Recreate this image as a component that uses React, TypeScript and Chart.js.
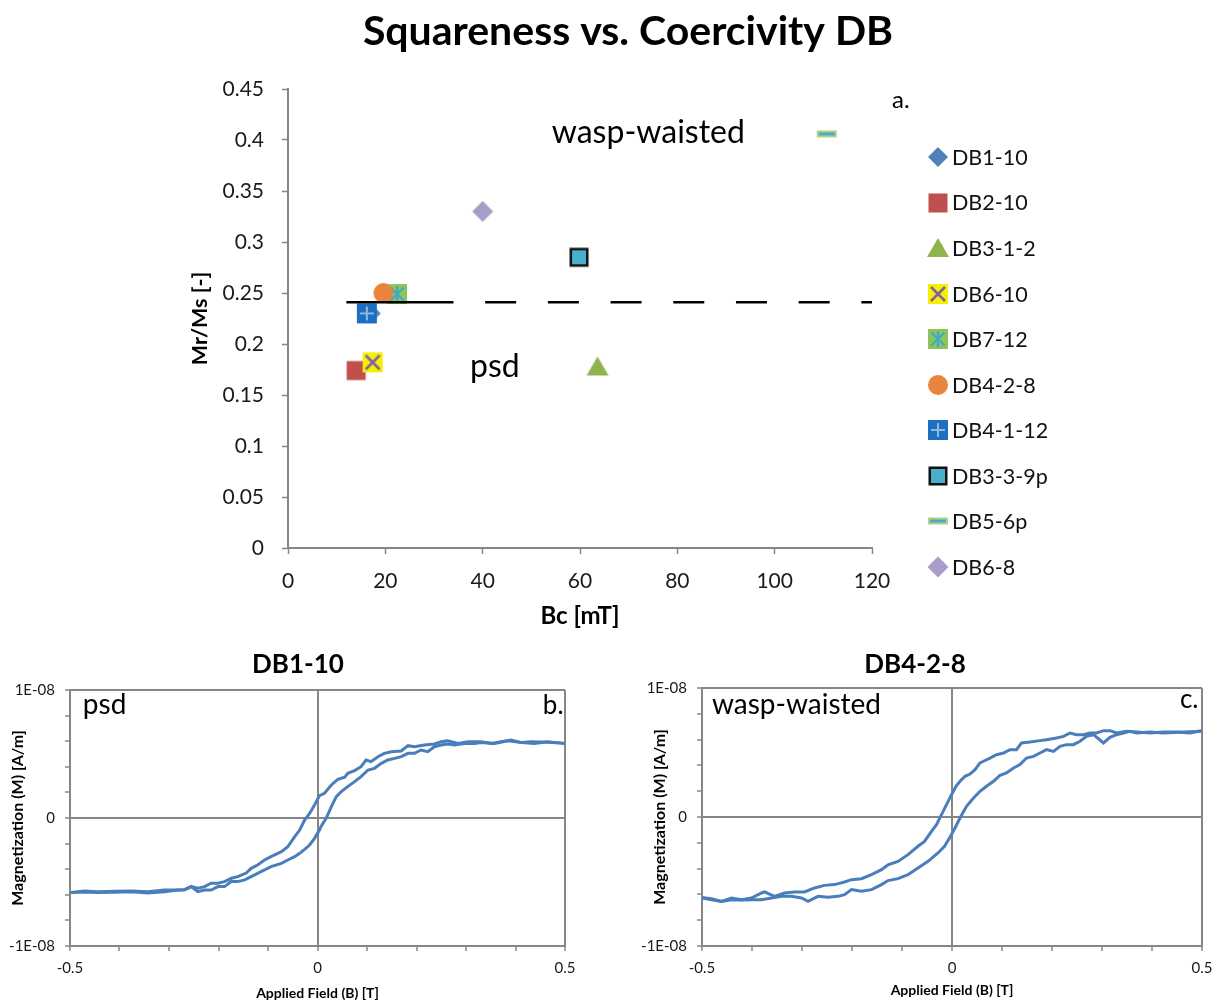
import React, { useEffect, useRef } from "react";
import { Chart, registerables } from "chart.js";

Chart.register(...registerables);

const FONT = 'Lato, "Open Sans", "DejaVu Sans", sans-serif';
Chart.defaults.font.family = FONT;
Chart.defaults.color = "#000";

/* ---------------- Panel a: squareness vs. coercivity ---------------- */
const sampleNames = ["DB1-10", "DB2-10", "DB3-1-2", "DB6-10", "DB7-12", "DB4-2-8", "DB4-1-12", "DB3-3-9p", "DB5-6p", "DB6-8"];
const coercivityBc = [17.0, 14.0, 63.6, 17.4, 22.4, 19.6, 16.2, 59.8, 110.7, 40.0];
const squarenessMrMs = [0.23, 0.174, 0.178, 0.182, 0.249, 0.25, 0.23, 0.285, 0.406, 0.33];
const markerKinds = ["diamondBlue", "squareRed", "triangleGreen", "squareYellowX", "squareGreenStar", "circleOrange", "squareBluePlus", "squareTealBorder", "dashTeal", "diamondLavender"];
const psdThresholdMrMs = 0.241;
const thresholdSolidBc = [12, 34];
const thresholdDashedBc = [34, 120];
const bcAxis = { min: 0, max: 120, step: 20 };
const mrmsAxis = { min: 0, max: 0.45, step: 0.05 };

/* ---------------- Panels b/c: hysteresis loops ----------------
   [applied field B (T), magnetization M (units of 1E-09 A/m)] */
const db1UpperBranch = [
  [-0.498, -5.81], [-0.471, -5.7], [-0.444, -5.76], [-0.41, -5.72], [-0.376, -5.7], [-0.343, -5.76], [-0.309, -5.63],
  [-0.282, -5.63], [-0.269, -5.6], [-0.255, -5.36], [-0.242, -5.49], [-0.228, -5.36], [-0.215, -5.1], [-0.201, -5.1],
  [-0.188, -4.97], [-0.174, -4.71], [-0.161, -4.58], [-0.144, -4.3], [-0.134, -3.93], [-0.121, -3.67], [-0.107, -3.28],
  [-0.094, -3.02], [-0.073, -2.63], [-0.06, -2.24], [-0.046, -1.46], [-0.036, -0.94], [-0.026, -0.16], [-0.016, 0.36],
  [-0.006, 1.02], [0.004, 1.75], [0.014, 1.93], [0.028, 2.58], [0.041, 3.02], [0.055, 3.18], [0.061, 3.49], [0.075, 3.7],
  [0.088, 4.01], [0.098, 4.53], [0.108, 4.4], [0.122, 4.79], [0.135, 5.05], [0.149, 5.18], [0.169, 5.23], [0.183, 5.65],
  [0.196, 5.57], [0.216, 5.7], [0.236, 5.78], [0.25, 5.96], [0.263, 6.04], [0.284, 5.83], [0.304, 5.96], [0.331, 5.96],
  [0.351, 5.83], [0.371, 5.96], [0.391, 6.09], [0.412, 5.89], [0.432, 5.96], [0.465, 5.91], [0.499, 5.83],
];
const db1LowerBranch = [
  [-0.498, -5.83], [-0.471, -5.78], [-0.444, -5.83], [-0.41, -5.8], [-0.376, -5.76], [-0.343, -5.85], [-0.309, -5.76],
  [-0.282, -5.63], [-0.269, -5.61], [-0.255, -5.36], [-0.242, -5.76], [-0.228, -5.63], [-0.215, -5.63], [-0.201, -5.36],
  [-0.188, -5.36], [-0.174, -4.97], [-0.161, -4.97], [-0.147, -4.84], [-0.134, -4.58], [-0.121, -4.32], [-0.107, -4.06],
  [-0.094, -3.8], [-0.073, -3.54], [-0.06, -3.28], [-0.046, -3.02], [-0.036, -2.76], [-0.026, -2.45], [-0.016, -2.11],
  [-0.006, -1.59], [0.004, -0.94], [0.007, -0.68], [0.018, 0.02], [0.028, 0.89], [0.038, 1.67], [0.048, 2.06],
  [0.061, 2.45], [0.075, 2.84], [0.088, 3.23], [0.102, 3.75], [0.115, 3.88], [0.129, 4.27], [0.142, 4.53], [0.156, 4.66],
  [0.169, 4.79], [0.183, 5.05], [0.196, 5.05], [0.209, 5.31], [0.223, 5.18], [0.236, 5.57], [0.25, 5.7], [0.263, 5.78],
  [0.277, 5.7], [0.29, 5.78], [0.304, 5.83], [0.317, 5.83], [0.331, 5.89], [0.358, 5.83], [0.384, 6.04], [0.412, 5.89],
  [0.438, 5.83], [0.465, 5.96], [0.499, 5.83],
];
const db4UpperBranch = [
  [-0.501, -6.28], [-0.481, -6.41], [-0.461, -6.54], [-0.441, -6.28], [-0.421, -6.41], [-0.401, -6.28], [-0.381, -5.89],
  [-0.375, -5.81], [-0.355, -6.15], [-0.335, -5.89], [-0.315, -5.81], [-0.295, -5.81], [-0.275, -5.5], [-0.255, -5.3],
  [-0.235, -5.24], [-0.215, -5.04], [-0.201, -4.86], [-0.181, -4.78], [-0.161, -4.47], [-0.141, -4.08], [-0.128, -3.7],
  [-0.108, -3.44], [-0.088, -2.92], [-0.068, -2.27], [-0.055, -1.89], [-0.041, -1.11], [-0.031, -0.59], [-0.021, 0.18],
  [-0.011, 0.96], [-0.001, 1.73], [0.008, 2.38], [0.016, 2.77], [0.026, 3.15], [0.036, 3.33], [0.046, 3.67], [0.056, 4.19],
  [0.063, 4.32], [0.076, 4.57], [0.089, 4.83], [0.103, 4.96], [0.116, 5.22], [0.129, 5.22], [0.139, 5.74], [0.156, 5.81],
  [0.176, 5.92], [0.189, 5.99], [0.209, 6.12], [0.223, 6.25], [0.236, 6.51], [0.249, 6.38], [0.263, 6.38], [0.276, 6.51],
  [0.289, 6.51], [0.303, 6.69], [0.316, 6.69], [0.329, 6.51], [0.349, 6.64], [0.369, 6.59], [0.396, 6.51], [0.423, 6.59],
  [0.449, 6.59], [0.476, 6.51], [0.499, 6.69],
];
const db4LowerBranch = [
  [-0.501, -6.23], [-0.481, -6.33], [-0.461, -6.54], [-0.441, -6.41], [-0.421, -6.44], [-0.401, -6.41], [-0.381, -6.41],
  [-0.361, -6.28], [-0.341, -6.15], [-0.321, -6.15], [-0.301, -6.28], [-0.288, -6.54], [-0.268, -6.15], [-0.248, -6.23],
  [-0.228, -6.15], [-0.215, -6.02], [-0.201, -5.63], [-0.181, -5.76], [-0.161, -5.63], [-0.141, -5.24], [-0.128, -4.93],
  [-0.108, -4.78], [-0.088, -4.47], [-0.068, -3.95], [-0.048, -3.44], [-0.028, -2.79], [-0.015, -2.27], [-0.005, -1.63],
  [0.006, -0.85], [0.016, -0.08], [0.029, 0.83], [0.043, 1.47], [0.056, 1.99], [0.069, 2.38], [0.083, 2.77], [0.096, 3.23],
  [0.109, 3.41], [0.123, 3.8], [0.136, 4.06], [0.149, 4.57], [0.163, 4.7], [0.176, 4.96], [0.189, 5.22], [0.203, 5.09],
  [0.216, 5.48], [0.229, 5.61], [0.243, 5.61], [0.256, 5.87], [0.269, 6.25], [0.283, 6.38], [0.303, 5.74], [0.316, 6.17],
  [0.329, 6.38], [0.343, 6.51], [0.356, 6.64], [0.369, 6.51], [0.396, 6.59], [0.423, 6.51], [0.463, 6.59], [0.499, 6.64],
];
const fieldAxis = { min: -0.5, max: 0.5, step: 0.1 };
const fieldLabelled = [-0.5, 0, 0.5];
const magAxis = { min: -10, max: 10, step: 2 };
const magLabelled = [-10, 0, 10];

/* ---------------- styling ---------------- */
const GRAY = "#868686";
const LOOP_BLUE = "#4A7EBB";

function makeMarker(kind: string): HTMLCanvasElement {
  const c = document.createElement("canvas");
  const S = 26;
  c.width = S;
  c.height = S;
  const g = c.getContext("2d") as CanvasRenderingContext2D;
  const m = S / 2;
  const square = (fill: string, half: number) => {
    g.fillStyle = fill;
    g.fillRect(m - half, m - half, half * 2, half * 2);
  };
  const diamond = (fill: string, h: number) => {
    g.fillStyle = fill;
    g.beginPath();
    g.moveTo(m, m - h);
    g.lineTo(m + h, m);
    g.lineTo(m, m + h);
    g.lineTo(m - h, m);
    g.closePath();
    g.fill();
  };
  const seg = (x1: number, y1: number, x2: number, y2: number, col: string, lw: number) => {
    g.strokeStyle = col;
    g.lineWidth = lw;
    g.lineCap = "butt";
    g.beginPath();
    g.moveTo(m + x1, m + y1);
    g.lineTo(m + x2, m + y2);
    g.stroke();
  };
  switch (kind) {
    case "diamondBlue":
      diamond("#4F81BD", 10);
      break;
    case "squareRed":
      square("#C0504D", 9.5);
      break;
    case "triangleGreen":
      g.fillStyle = "#8FB34F";
      g.beginPath();
      g.moveTo(m, m - 10);
      g.lineTo(m + 11, m + 9);
      g.lineTo(m - 11, m + 9);
      g.closePath();
      g.fill();
      break;
    case "squareYellowX":
      square("#F4F000", 10);
      seg(-7, -7, 7, 7, "#7F60A8", 2.5);
      seg(-7, 7, 7, -7, "#7F60A8", 2.5);
      break;
    case "squareGreenStar":
      square("#8FC45A", 10);
      seg(-6.5, -6.5, 6.5, 6.5, "#3FA9C9", 2.2);
      seg(-6.5, 6.5, 6.5, -6.5, "#3FA9C9", 2.2);
      seg(0, -8, 0, 8, "#3FA9C9", 2.2);
      break;
    case "circleOrange":
      g.fillStyle = "#E9843C";
      g.beginPath();
      g.arc(m, m, 10, 0, Math.PI * 2);
      g.fill();
      break;
    case "squareBluePlus":
      square("#1E6FC0", 10);
      seg(-7, 0, 7, 0, "#8EB7E3", 2);
      seg(0, -7, 0, 7, "#8EB7E3", 2);
      break;
    case "squareTealBorder":
      square("#111", 9.5);
      square("#47AECB", 7);
      break;
    case "dashTeal":
      g.fillStyle = "#B5CF8B";
      g.fillRect(m - 10, m - 3.5, 20, 7);
      g.fillStyle = "#4BACC6";
      g.fillRect(m - 8, m - 1.5, 16, 3);
      break;
    case "diamondLavender":
      diamond("#A89DC8", 10.5);
      break;
  }
  return c;
}

function notesPlugin(items: any[]) {
  return {
    id: "notes",
    afterDatasetsDraw(chart: any) {
      const { ctx, scales } = chart;
      ctx.save();
      for (const n of items) {
        ctx.font = `${n.size}px ${FONT}`;
        ctx.fillStyle = "#000";
        ctx.textAlign = n.align;
        ctx.textBaseline = "middle";
        ctx.fillText(n.text, scales.x.getPixelForValue(n.x), scales.y.getPixelForValue(n.y));
      }
      ctx.restore();
    },
  };
}

function sideLegendPlugin(cfg: { offsetX: number; top: number; spacing: number; gap: number; size: number }) {
  return {
    id: "sideLegend",
    afterDraw(chart: any) {
      const { ctx, chartArea } = chart;
      ctx.save();
      ctx.font = `${cfg.size}px ${FONT}`;
      ctx.fillStyle = "#111";
      ctx.textAlign = "left";
      ctx.textBaseline = "middle";
      let row = 0;
      chart.data.datasets.forEach((ds: any) => {
        if (!ds.inLegend) return;
        const x = chartArea.right + cfg.offsetX;
        const y = chartArea.top + cfg.top + row * cfg.spacing;
        const img = ds.pointStyle as HTMLCanvasElement;
        ctx.drawImage(img, Math.round(x - img.width / 2), Math.round(y - img.height / 2));
        ctx.fillText(ds.label, x + cfg.gap, y + 1);
        row++;
      });
      ctx.restore();
    },
  };
}

const topNotes = [
  { text: "wasp-waisted", x: 54.2, y: 0.407, size: 32, align: "left" },
  { text: "psd", x: 37.4, y: 0.178, size: 32, align: "left" },
  { text: "a.", x: 124.1, y: 0.439, size: 24, align: "left" },
];

function ScatterPanel() {
  const ref = useRef<HTMLCanvasElement>(null);
  useEffect(() => {
    const markers = markerKinds.map(makeMarker);
    const datasets: any[] = sampleNames.map((name, i) => ({
      label: name,
      data: [{ x: coercivityBc[i], y: squarenessMrMs[i] }],
      pointStyle: markers[i],
      pointRadius: 10,
      pointHoverRadius: 10,
      showLine: false,
      order: sampleNames.length - i,
      inLegend: true,
    }));
    datasets.push({
      label: "psd limit",
      data: thresholdSolidBc.map((x) => ({ x, y: psdThresholdMrMs })),
      showLine: true,
      borderColor: "#000",
      borderWidth: 2.5,
      pointRadius: 0,
      order: 0,
      inLegend: false,
    });
    datasets.push({
      label: "psd limit dashed",
      data: thresholdDashedBc.map((x) => ({ x, y: psdThresholdMrMs })),
      showLine: true,
      borderColor: "#000",
      borderWidth: 2.5,
      borderDash: [31, 31.7],
      borderDashOffset: 31,
      pointRadius: 0,
      order: 0,
      inLegend: false,
    });
    const chart = new Chart(ref.current as HTMLCanvasElement, {
      type: "scatter",
      data: { datasets },
      options: {
        animation: false,
        responsive: false,
        events: [],
        layout: { padding: { left: 184, right: 148, top: 0, bottom: 4 } },
        plugins: {
          legend: { display: false },
          tooltip: { enabled: false },
          title: {
            display: true,
            text: "Squareness vs. Coercivity DB",
            font: { family: FONT, size: 41, weight: "bold", lineHeight: 1.2 },
            color: "#000",
            padding: { top: 7.4, bottom: 32.4 },
          },
        },
        scales: {
          x: {
            type: "linear",
            min: bcAxis.min,
            max: bcAxis.max,
            ticks: { stepSize: bcAxis.step, font: { size: 21 }, color: "#1a1a1a", padding: 15, autoSkip: false, callback: (v: any) => String(v) },
            grid: { drawOnChartArea: false, tickLength: 6, tickColor: GRAY, tickWidth: 1.5 },
            border: { color: GRAY, width: 2 },
            title: { display: true, text: "Bc [mT]", font: { size: 24, weight: "bold", lineHeight: 1 }, color: "#000", padding: { top: 4, bottom: 8 } },
            afterFit: (s: any) => {
              s.height = 88;
              s.paddingLeft = 0;
              s.paddingRight = 348;
            },
          },
          y: {
            type: "linear",
            min: mrmsAxis.min,
            max: mrmsAxis.max,
            ticks: {
              stepSize: mrmsAxis.step,
              font: { size: 21 },
              color: "#1a1a1a",
              padding: 18,
              autoSkip: false,
              callback: (v: any) => String(Math.round(v * 100) / 100),
            },
            grid: { drawOnChartArea: false, tickLength: 6, tickColor: GRAY, tickWidth: 1.5 },
            border: { color: GRAY, width: 2 },
            title: { display: true, text: "Mr/Ms [-]", font: { size: 21.5, weight: "bold", lineHeight: 1 }, color: "#000", padding: { top: 5, bottom: 0 } },
            afterFit: (s: any) => {
              s.width = 104;
            },
          },
        },
      } as any,
      plugins: [notesPlugin(topNotes), sideLegendPlugin({ offsetX: 66, top: 68, spacing: 45.55, gap: 14, size: 21.5 })],
    });
    return () => chart.destroy();
  }, []);
  return <canvas ref={ref} width={1220} height={640} style={{ position: "absolute", left: 0, top: 0 }} />;
}

function isLabelled(v: number, list: number[]) {
  return list.some((t) => Math.abs(t - v) < 1e-9);
}

function LoopPanel(props: any) {
  const ref = useRef<HTMLCanvasElement>(null);
  const { title, upper, lower, notes, pageLeft, width, layoutRight, titlePad, yTitlePadTop, xPadRight, xTitlePadBottom } = props;
  useEffect(() => {
    const gridColor = (list: number[]) => (c: any) =>
      c.tick && isLabelled(c.tick.value, list) ? GRAY : "rgba(0,0,0,0)";
    const chart = new Chart(ref.current as HTMLCanvasElement, {
      type: "scatter",
      data: {
        datasets: [upper, lower].map((branch: number[][], i: number) => ({
          label: i === 0 ? "descending" : "ascending",
          data: branch.map(([b, m]) => ({ x: b, y: m })),
          showLine: true,
          borderColor: LOOP_BLUE,
          backgroundColor: LOOP_BLUE,
          borderWidth: 3,
          pointRadius: 0,
          tension: 0,
        })),
      },
      options: {
        animation: false,
        responsive: false,
        events: [],
        layout: { padding: { left: 0, right: layoutRight, top: 0, bottom: 0 } },
        plugins: {
          legend: { display: false },
          tooltip: { enabled: false },
          title: {
            display: true,
            text: title,
            font: { family: FONT, size: 26, weight: "bold" },
            color: "#000",
            padding: titlePad,
          },
        },
        scales: {
          x: {
            type: "linear",
            min: fieldAxis.min,
            max: fieldAxis.max,
            ticks: {
              stepSize: fieldAxis.step,
              font: { size: 15 },
              color: "#1a1a1a",
              padding: 8,
              autoSkip: false,
              maxRotation: 0,
              callback: (v: any) => (isLabelled(v, fieldLabelled) ? (Math.abs(v) < 1e-9 ? "0" : String(Math.round(v * 10) / 10)) : ""),
            },
            grid: { color: gridColor(fieldLabelled), lineWidth: 2, tickLength: 5, tickColor: GRAY, tickWidth: 1.5 },
            border: { color: GRAY, width: 2 },
            title: {
              display: true,
              text: "Applied Field (B) [T]",
              font: { size: 14, weight: "bold", lineHeight: 1 },
              color: "#000",
              padding: { top: 0, bottom: xTitlePadBottom },
            },
            afterFit: (s: any) => {
              s.height = 54;
              s.paddingLeft = 0;
              s.paddingRight = xPadRight;
            },
          },
          y: {
            type: "linear",
            min: magAxis.min,
            max: magAxis.max,
            ticks: {
              stepSize: magAxis.step,
              font: { size: 15 },
              color: "#1a1a1a",
              padding: 10,
              autoSkip: false,
              callback: (v: any) => (isLabelled(v, magLabelled) ? (Math.abs(v) < 1e-9 ? "0" : v > 0 ? "1E-08" : "-1E-08") : ""),
            },
            grid: { color: gridColor(magLabelled), lineWidth: 2, tickLength: 5, tickColor: GRAY, tickWidth: 1.5 },
            border: { color: GRAY, width: 2 },
            title: {
              display: true,
              text: "Magnetization (M) [A/m]",
              font: { size: 16, weight: "bold", lineHeight: 1.2 },
              color: "#000",
              padding: { top: yTitlePadTop, bottom: 0 },
            },
            afterFit: (s: any) => {
              s.width = props.yWidth;
            },
          },
        },
      } as any,
      plugins: [notesPlugin(notes)],
    });
    return () => chart.destroy();
  }, []);
  return <canvas ref={ref} width={width} height={360} style={{ position: "absolute", left: pageLeft, top: 640 }} />;
}

const db1Notes = [
  { text: "psd", x: -0.474, y: 8.8, size: 28, align: "left" },
  { text: "b.", x: 0.497, y: 8.75, size: 26, align: "right" },
];
const db4Notes = [
  { text: "wasp-waisted", x: -0.48, y: 8.7, size: 28, align: "left" },
  { text: "c.", x: 0.493, y: 9.1, size: 26, align: "right" },
];

export default function App() {
  return (
    <div style={{ position: "absolute", left: 0, top: 0, width: 1220, height: 1000, overflow: "hidden", background: "#fff" }}>
      <ScatterPanel />
      <LoopPanel
        title="DB1-10"
        upper={db1UpperBranch}
        lower={db1LowerBranch}
        notes={db1Notes}
        pageLeft={0}
        width={610}
        layoutRight={14}
        titlePad={{ top: 9.4, bottom: 9.4 }}
        yTitlePadTop={8.4}
        yWidth={70}
        xPadRight={45}
        xTitlePadBottom={0}
      />
      <LoopPanel
        title="DB4-2-8"
        upper={db4UpperBranch}
        lower={db4LowerBranch}
        notes={db4Notes}
        pageLeft={620}
        width={600}
        layoutRight={10}
        titlePad={{ top: 9.4, bottom: 7.4 }}
        yTitlePadTop={30.4}
        yWidth={82}
        xPadRight={18}
        xTitlePadBottom={3}
      />
    </div>
  );
}
